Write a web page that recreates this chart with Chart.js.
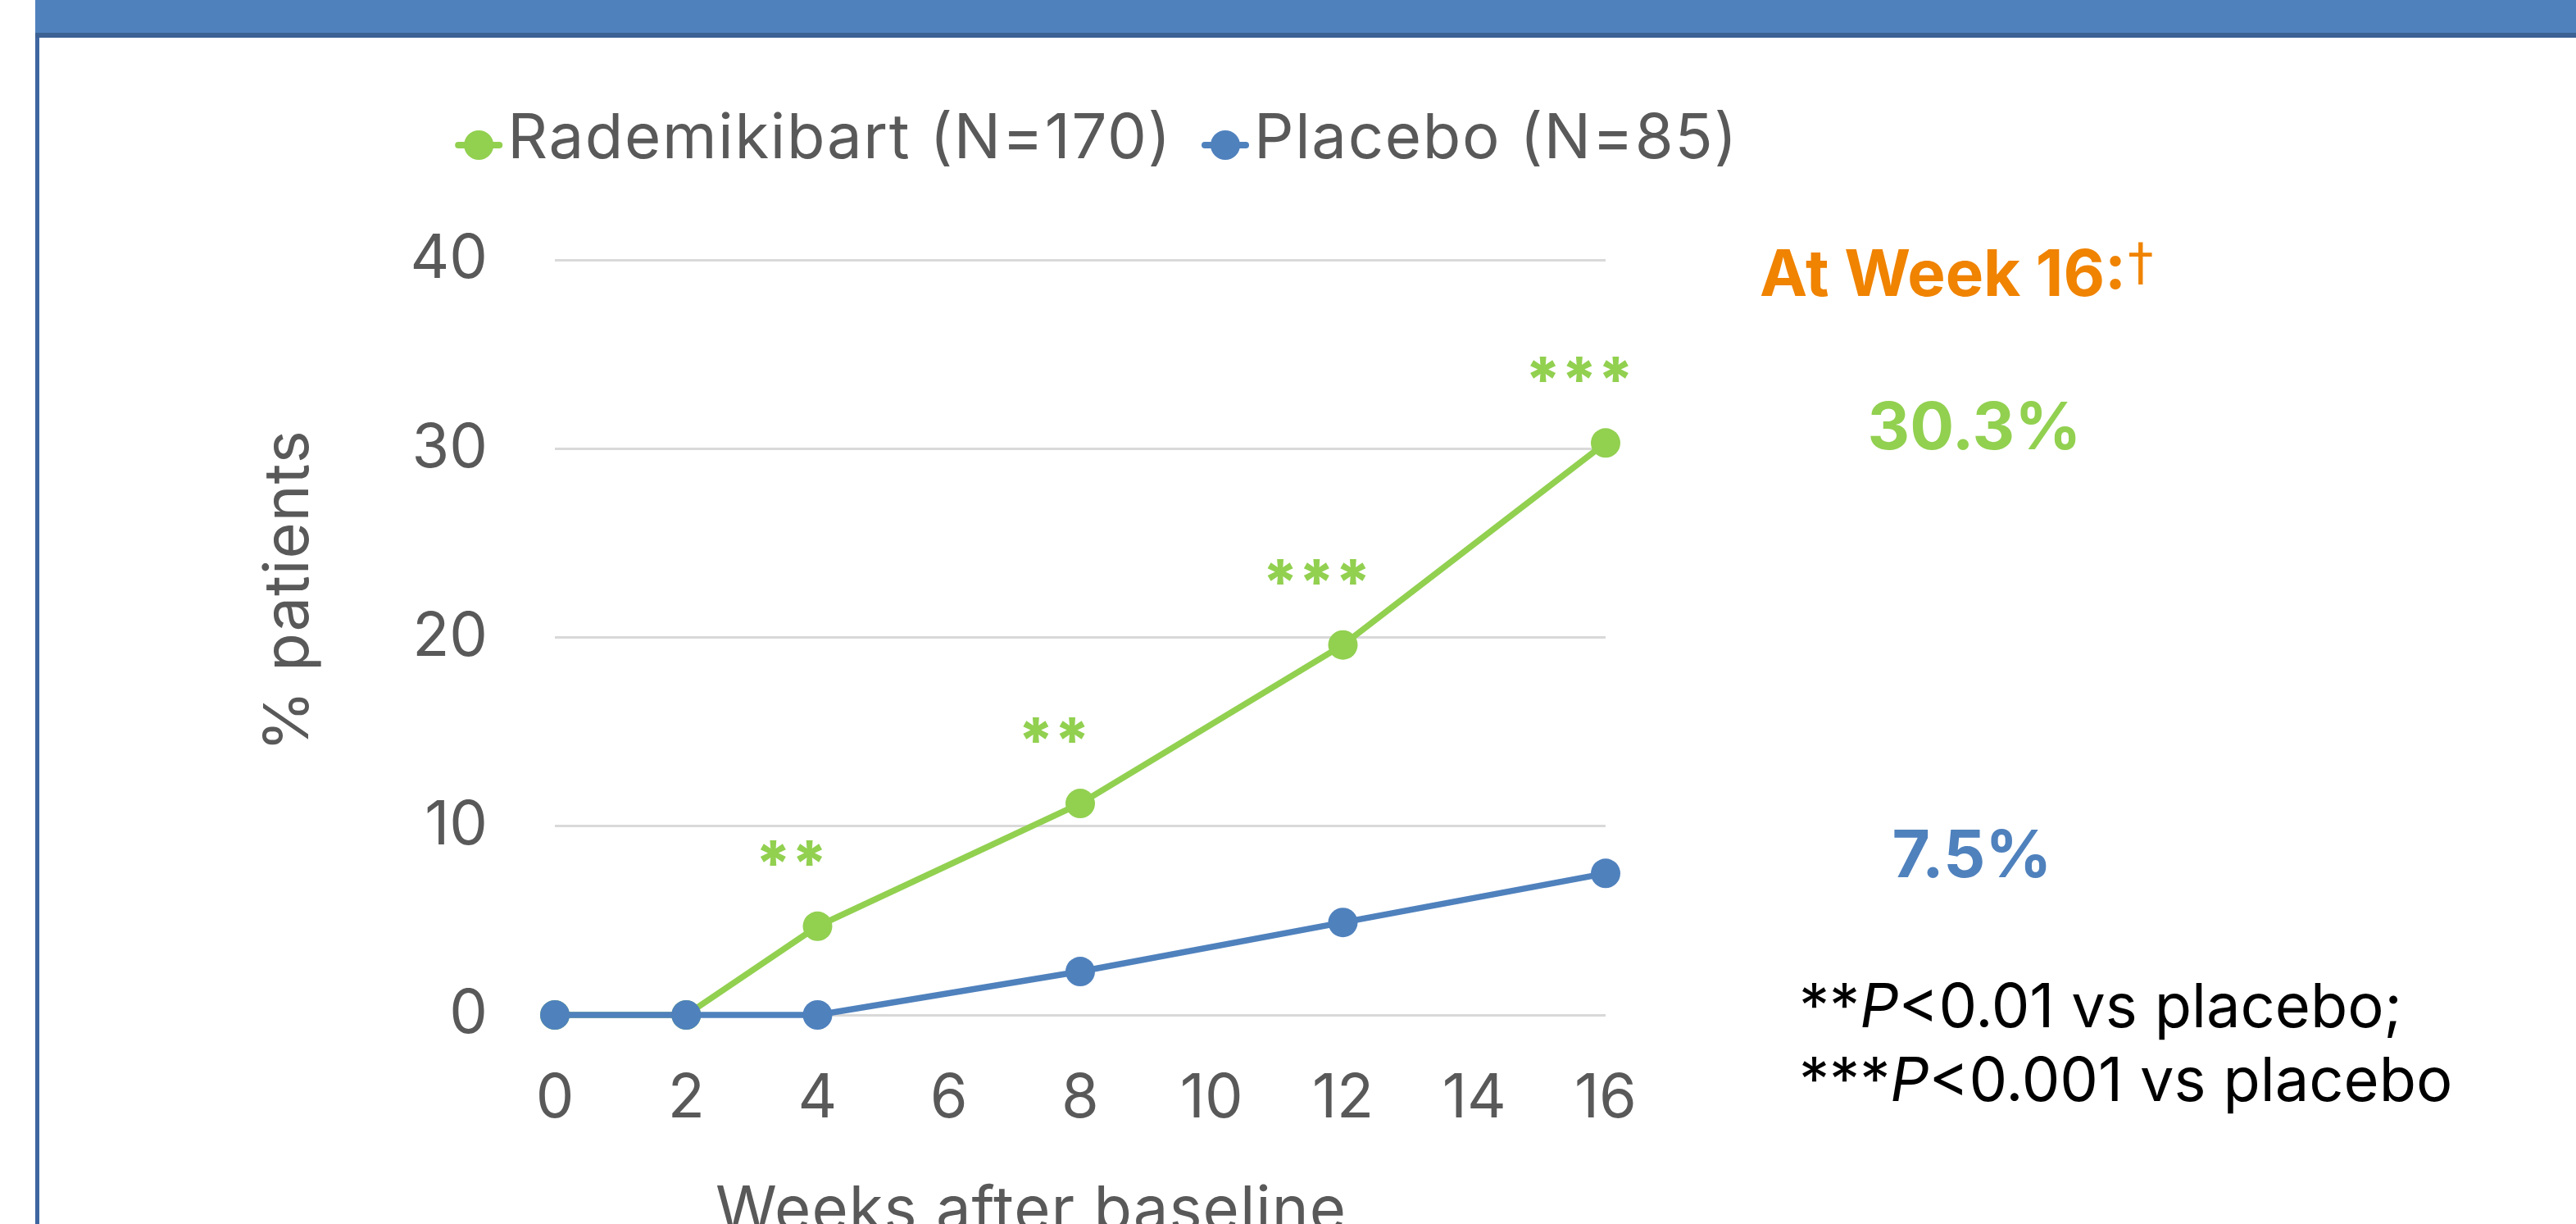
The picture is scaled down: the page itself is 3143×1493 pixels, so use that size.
<!DOCTYPE html>
<html>
<head>
<meta charset="utf-8">
<script src="https://cdn.jsdelivr.net/npm/chart.js@4.4.1/dist/chart.umd.min.js"></script>
<style>
  html, body { margin: 0; padding: 0; background: #fff; overflow: hidden; }
  body { width: 3143px; height: 1493px; position: relative; font-family: Inter, "Noto Sans", sans-serif; }
  canvas { position: absolute; left: 0; top: 0; }
  #banner { position: absolute; left: 43px; top: 0; width: 3100px; height: 40px; background: #4f81bd; border-bottom: 6px solid #3c6194; }
  #frame { position: absolute; left: 43px; top: 0; width: 5px; height: 1493px; background: #3f66a0; }
  .note { position: absolute; line-height: 1; white-space: nowrap; }
  #week { left: 2147px; top: 294px; font-size: 78px; font-weight: 700; color: #f08300; }
  #week span { font-family: "DejaVu Sans", sans-serif; font-weight: 400; font-size: 62px; position: relative; top: -20px; margin-left: 2px; }
  #pctR { left: 2409px; top: 479px; font-size: 80px; font-weight: 700; color: #92d050; transform: translateX(-50%); }
  #pctP { left: 2406px; top: 1001px; font-size: 80px; font-weight: 700; color: #4f81bd; transform: translateX(-50%); }
  #foot { left: 2195px; top: 1181px; font-size: 74px; line-height: 90px; color: #000; }
</style>
</head>
<body>
<canvas id="chart" width="3143" height="1493"></canvas>
<div id="frame"></div>
<div id="banner"></div>
<div class="note" id="week">At Week 16:<span>†</span></div>
<div class="note" id="pctR">30.3%</div>
<div class="note" id="pctP">7.5%</div>
<div class="note" id="foot">**<i>P</i>&lt;0.01 vs placebo;<br>***<i>P</i>&lt;0.001 vs placebo</div>
<script>
// weeks after baseline and % patients per arm
const weeks = [0, 2, 4, 8, 12, 16];
const rademikibart = [0, 0, 4.7, 11.2, 19.6, 30.3];
const placebo = [0, 0, 0, 2.3, 4.9, 7.5];
const seriesNames = ['Rademikibart (N=170)', 'Placebo (N=85)'];
const seriesColors = ['#92d050', '#4f81bd'];
const xTicks = [0, 2, 4, 6, 8, 10, 12, 14, 16];
const yTicks = [0, 10, 20, 30, 40];
const sigWeeks = [4, 8, 12, 16];
const sigMarks = ['**', '**', '***', '***'];
const xTitle = 'Weeks after baseline';
const yTitle = '% patients';

const textGray = '#595959';
const baseFont = 'Inter, "Noto Sans", sans-serif';

function points(values) {
    return weeks.map((w, i) => ({ x: w, y: values[i] }));
}

function lineSet(label, values, color, order) {
    return {
        label: label,
        data: points(values),
        borderColor: color,
        backgroundColor: color,
        pointBackgroundColor: color,
        pointBorderColor: color,
        borderWidth: 7.5,
        pointRadius: 18,
        pointBorderWidth: 0,
        tension: 0,
        clip: false,
        order: order
    };
}

// legend with a short line through the marker, like the original
const lineLegend = {
    id: 'lineLegend',
    afterDraw(chart) {
        const ctx = chart.ctx;
        const area = chart.chartArea;
        const stub = 58, gapText = 6, gapItem = 36, y = 170;
        ctx.save();
        ctx.font = '76px ' + baseFont;
        ctx.letterSpacing = '1.7px';
        const widths = chart.data.datasets.map(d => ctx.measureText(d.label).width);
        let total = widths.reduce((a, b) => a + b, 0) + widths.length * (stub + gapText) + gapItem * (widths.length - 1);
        let x = (area.left + area.right) / 2 + 20 - total / 2;
        chart.data.datasets.forEach((d, i) => {
            ctx.strokeStyle = d.borderColor;
            ctx.lineWidth = 8;
            ctx.lineCap = 'round';
            ctx.beginPath();
            ctx.moveTo(x + 4, y + 7);
            ctx.lineTo(x + stub - 4, y + 7);
            ctx.stroke();
            ctx.fillStyle = d.borderColor;
            ctx.beginPath();
            ctx.arc(x + stub / 2, y + 7, 18, 0, Math.PI * 2);
            ctx.fill();
            ctx.fillStyle = textGray;
            ctx.textBaseline = 'middle';
            ctx.textAlign = 'left';
            ctx.fillText(d.label, x + stub + gapText, y);
            x += stub + gapText + widths[i] + gapItem;
        });
        ctx.restore();
    }
};

// significance stars over the rademikibart points
const sigStars = {
    id: 'sigStars',
    afterDatasetsDraw(chart) {
        const ctx = chart.ctx;
        const meta = chart.getDatasetMeta(0);
        ctx.save();
        ctx.font = '800 76px ' + baseFont;
        ctx.fillStyle = seriesColors[0];
        ctx.textAlign = 'center';
        ctx.textBaseline = 'alphabetic';
        sigWeeks.forEach((w, i) => {
            const pt = meta.data[weeks.indexOf(w)];
            ctx.fillText(sigMarks[i], pt.x - 32, pt.y - 50);
        });
        ctx.restore();
    }
};

// axis titles, placed where the original has them
const axisTitles = {
    id: 'axisTitles',
    afterDraw(chart) {
        const ctx = chart.ctx;
        const area = chart.chartArea;
        ctx.save();
        ctx.font = '76px ' + baseFont;
        ctx.fillStyle = textGray;
        ctx.textAlign = 'center';
        ctx.textBaseline = 'middle';
        ctx.letterSpacing = '1px';
        ctx.fillText(xTitle, (area.left + area.right) / 2 - 60, area.bottom + 240);
        ctx.translate(353, (area.top + area.bottom) / 2 - 57);
        ctx.rotate(-Math.PI / 2);
        ctx.fillText(yTitle, 0, 0);
        ctx.restore();
    }
};

new Chart(document.getElementById('chart'), {
    type: 'line',
    data: {
        datasets: [
            lineSet(seriesNames[0], rademikibart, seriesColors[0], 1),
            lineSet(seriesNames[1], placebo, seriesColors[1], 0)
        ]
    },
    options: {
        responsive: false,
        animation: false,
        events: [],
        layout: { padding: { left: 300, top: 317, right: 1184, bottom: 0 } },
        plugins: {
            legend: { display: false },
            tooltip: { enabled: false }
        },
        scales: {
            x: {
                type: 'linear',
                min: xTicks[0],
                max: xTicks[xTicks.length - 1],
                ticks: {
                    stepSize: xTicks[1] - xTicks[0],
                    color: textGray,
                    font: { family: baseFont, size: 74 },
                    padding: 58
                },
                grid: { display: false, drawTicks: false },
                border: { display: false },
                afterFit: s => { s.height = 255; }
            },
            y: {
                min: yTicks[0],
                max: yTicks[yTicks.length - 1],
                ticks: {
                    stepSize: yTicks[1] - yTicks[0],
                    color: textGray,
                    font: { family: baseFont, size: 74 },
                    padding: 82
                },
                grid: { color: '#d9d9d9', lineWidth: 3, drawTicks: false },
                border: { display: false },
                afterFit: s => { s.width = 377; }
            }
        }
    },
    plugins: [lineLegend, sigStars, axisTitles]
});
</script>
</body>
</html>
